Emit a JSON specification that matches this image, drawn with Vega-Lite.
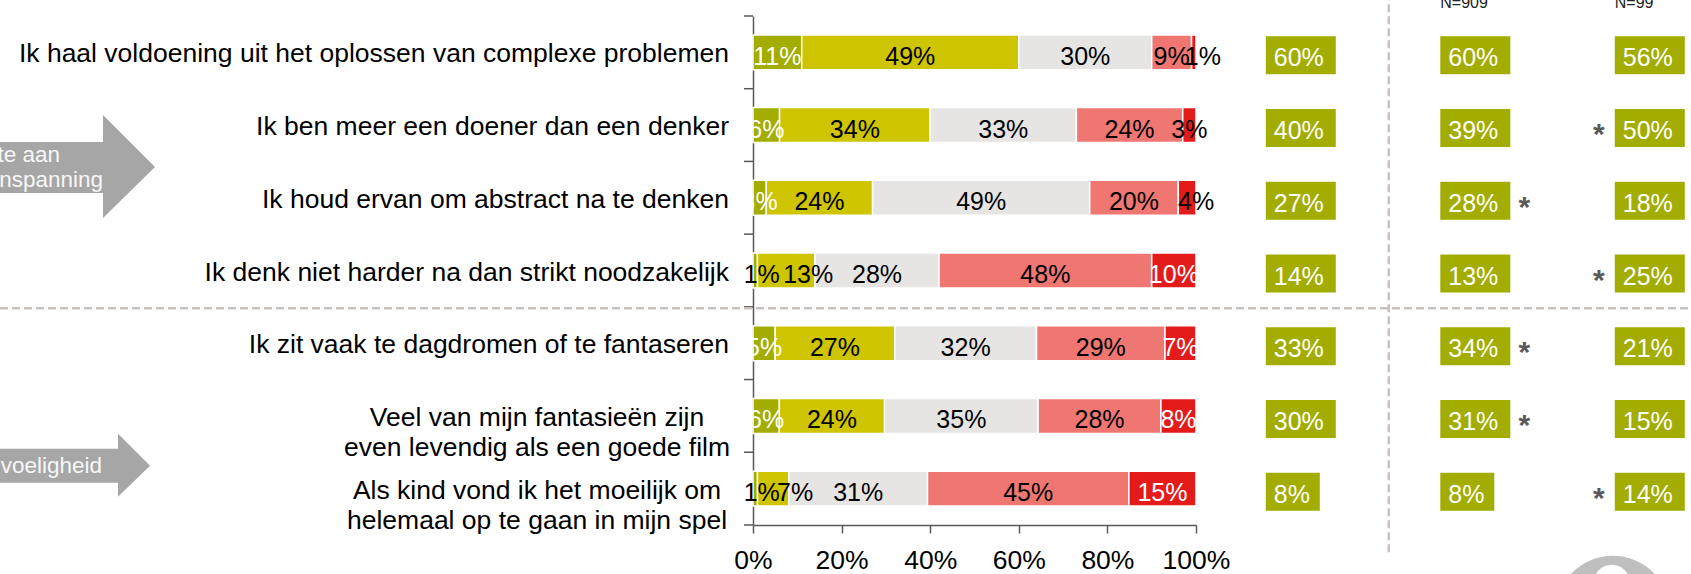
{
  "$schema": "https://vega.github.io/schema/vega-lite/v6.json",
  "width": 443,
  "height": 509,
  "autosize": {"type": "none"},
  "padding": {"left": 753, "top": 16, "right": 495, "bottom": 49},
  "background": "white",
  "config": {"view": {"stroke": null}, "font": "Liberation Sans"},
  "datasets": {
    "likert": [
      {"s": "Ik haal voldoening uit het oplossen van complexe problemen", "c": "Helemaal eens", "k": 1, "v": 11},
      {"s": "Ik haal voldoening uit het oplossen van complexe problemen", "c": "Eens", "k": 2, "v": 49},
      {"s": "Ik haal voldoening uit het oplossen van complexe problemen", "c": "Neutraal", "k": 3, "v": 30},
      {"s": "Ik haal voldoening uit het oplossen van complexe problemen", "c": "Oneens", "k": 4, "v": 9},
      {"s": "Ik haal voldoening uit het oplossen van complexe problemen", "c": "Helemaal oneens", "k": 5, "v": 1},
      {"s": "Ik ben meer een doener dan een denker", "c": "Helemaal eens", "k": 1, "v": 6},
      {"s": "Ik ben meer een doener dan een denker", "c": "Eens", "k": 2, "v": 34},
      {"s": "Ik ben meer een doener dan een denker", "c": "Neutraal", "k": 3, "v": 33},
      {"s": "Ik ben meer een doener dan een denker", "c": "Oneens", "k": 4, "v": 24},
      {"s": "Ik ben meer een doener dan een denker", "c": "Helemaal oneens", "k": 5, "v": 3},
      {"s": "Ik houd ervan om abstract na te denken", "c": "Helemaal eens", "k": 1, "v": 3},
      {"s": "Ik houd ervan om abstract na te denken", "c": "Eens", "k": 2, "v": 24},
      {"s": "Ik houd ervan om abstract na te denken", "c": "Neutraal", "k": 3, "v": 49},
      {"s": "Ik houd ervan om abstract na te denken", "c": "Oneens", "k": 4, "v": 20},
      {"s": "Ik houd ervan om abstract na te denken", "c": "Helemaal oneens", "k": 5, "v": 4},
      {"s": "Ik denk niet harder na dan strikt noodzakelijk", "c": "Helemaal eens", "k": 1, "v": 1},
      {"s": "Ik denk niet harder na dan strikt noodzakelijk", "c": "Eens", "k": 2, "v": 13},
      {"s": "Ik denk niet harder na dan strikt noodzakelijk", "c": "Neutraal", "k": 3, "v": 28},
      {"s": "Ik denk niet harder na dan strikt noodzakelijk", "c": "Oneens", "k": 4, "v": 48},
      {"s": "Ik denk niet harder na dan strikt noodzakelijk", "c": "Helemaal oneens", "k": 5, "v": 10},
      {"s": "Ik zit vaak te dagdromen of te fantaseren", "c": "Helemaal eens", "k": 1, "v": 5},
      {"s": "Ik zit vaak te dagdromen of te fantaseren", "c": "Eens", "k": 2, "v": 27},
      {"s": "Ik zit vaak te dagdromen of te fantaseren", "c": "Neutraal", "k": 3, "v": 32},
      {"s": "Ik zit vaak te dagdromen of te fantaseren", "c": "Oneens", "k": 4, "v": 29},
      {"s": "Ik zit vaak te dagdromen of te fantaseren", "c": "Helemaal oneens", "k": 5, "v": 7},
      {"s": "Veel van mijn fantasieën zijn\neven levendig als een goede film", "c": "Helemaal eens", "k": 1, "v": 6},
      {"s": "Veel van mijn fantasieën zijn\neven levendig als een goede film", "c": "Eens", "k": 2, "v": 24},
      {"s": "Veel van mijn fantasieën zijn\neven levendig als een goede film", "c": "Neutraal", "k": 3, "v": 35},
      {"s": "Veel van mijn fantasieën zijn\neven levendig als een goede film", "c": "Oneens", "k": 4, "v": 28},
      {"s": "Veel van mijn fantasieën zijn\neven levendig als een goede film", "c": "Helemaal oneens", "k": 5, "v": 8},
      {"s": "Als kind vond ik het moeilijk om\nhelemaal op te gaan in mijn spel", "c": "Helemaal eens", "k": 1, "v": 1},
      {"s": "Als kind vond ik het moeilijk om\nhelemaal op te gaan in mijn spel", "c": "Eens", "k": 2, "v": 7},
      {"s": "Als kind vond ik het moeilijk om\nhelemaal op te gaan in mijn spel", "c": "Neutraal", "k": 3, "v": 31},
      {"s": "Als kind vond ik het moeilijk om\nhelemaal op te gaan in mijn spel", "c": "Oneens", "k": 4, "v": 45},
      {"s": "Als kind vond ik het moeilijk om\nhelemaal op te gaan in mijn spel", "c": "Helemaal oneens", "k": 5, "v": 15}
    ],
    "boxes": [
      {"s": "Ik haal voldoening uit het oplossen van complexe problemen", "g": "Totaal", "v": 60},
      {"s": "Ik ben meer een doener dan een denker", "g": "Totaal", "v": 40},
      {"s": "Ik houd ervan om abstract na te denken", "g": "Totaal", "v": 27},
      {"s": "Ik denk niet harder na dan strikt noodzakelijk", "g": "Totaal", "v": 14},
      {"s": "Ik zit vaak te dagdromen of te fantaseren", "g": "Totaal", "v": 33},
      {"s": "Veel van mijn fantasieën zijn\neven levendig als een goede film", "g": "Totaal", "v": 30},
      {"s": "Als kind vond ik het moeilijk om\nhelemaal op te gaan in mijn spel", "g": "Totaal", "v": 8},
      {"s": "Ik haal voldoening uit het oplossen van complexe problemen", "g": "N=909", "v": 60},
      {"s": "Ik ben meer een doener dan een denker", "g": "N=909", "v": 39},
      {"s": "Ik houd ervan om abstract na te denken", "g": "N=909", "v": 28},
      {"s": "Ik denk niet harder na dan strikt noodzakelijk", "g": "N=909", "v": 13},
      {"s": "Ik zit vaak te dagdromen of te fantaseren", "g": "N=909", "v": 34},
      {"s": "Veel van mijn fantasieën zijn\neven levendig als een goede film", "g": "N=909", "v": 31},
      {"s": "Als kind vond ik het moeilijk om\nhelemaal op te gaan in mijn spel", "g": "N=909", "v": 8},
      {"s": "Ik haal voldoening uit het oplossen van complexe problemen", "g": "N=99", "v": 56},
      {"s": "Ik ben meer een doener dan een denker", "g": "N=99", "v": 50},
      {"s": "Ik houd ervan om abstract na te denken", "g": "N=99", "v": 18},
      {"s": "Ik denk niet harder na dan strikt noodzakelijk", "g": "N=99", "v": 25},
      {"s": "Ik zit vaak te dagdromen of te fantaseren", "g": "N=99", "v": 21},
      {"s": "Veel van mijn fantasieën zijn\neven levendig als een goede film", "g": "N=99", "v": 15},
      {"s": "Als kind vond ik het moeilijk om\nhelemaal op te gaan in mijn spel", "g": "N=99", "v": 14}
    ],
    "stars": [
      {"s": "Ik houd ervan om abstract na te denken", "g": "N=909"},
      {"s": "Ik zit vaak te dagdromen of te fantaseren", "g": "N=909"},
      {"s": "Veel van mijn fantasieën zijn\neven levendig als een goede film", "g": "N=909"},
      {"s": "Ik ben meer een doener dan een denker", "g": "N=99"},
      {"s": "Ik denk niet harder na dan strikt noodzakelijk", "g": "N=99"},
      {"s": "Als kind vond ik het moeilijk om\nhelemaal op te gaan in mijn spel", "g": "N=99"}
    ]
  },
  "encoding": {
    "y": {
      "field": "s",
      "type": "nominal",
      "scale": {
        "domain": [
          "Ik haal voldoening uit het oplossen van complexe problemen",
          "Ik ben meer een doener dan een denker",
          "Ik houd ervan om abstract na te denken",
          "Ik denk niet harder na dan strikt noodzakelijk",
          "Ik zit vaak te dagdromen of te fantaseren",
          "Veel van mijn fantasieën zijn\neven levendig als een goede film",
          "Als kind vond ik het moeilijk om\nhelemaal op te gaan in mijn spel"
        ],
        "paddingInner": 0.52,
        "paddingOuter": 0.26
      },
      "axis": {
        "labels": false,
        "title": null,
        "grid": false,
        "ticks": false,
        "domainColor": "#595959",
        "domainWidth": 1.5
      }
    }
  },
  "layer": [
    {
      "layer": [
        {
          "data": {"name": "likert"},
          "mark": {"type": "bar", "stroke": "white", "strokeWidth": 1.5},
          "encoding": {
            "x": {
              "field": "v",
              "type": "quantitative",
              "stack": "normalize",
              "scale": {"domain": [0, 1]},
              "axis": {
                "values": [0, 0.2, 0.4, 0.6, 0.8, 1],
                "format": ".0%",
                "title": null,
                "grid": false,
                "labelFontSize": 26.5,
                "labelColor": "black",
                "labelFlush": false,
                "tickSize": 8,
                "labelPadding": 14,
                "domainColor": "#595959",
                "tickColor": "#595959",
                "domainWidth": 1.5,
                "tickWidth": 1.5
              }
            },
            "color": {
              "field": "c",
              "type": "nominal",
              "scale": {
                "domain": ["Helemaal eens", "Eens", "Neutraal", "Oneens", "Helemaal oneens"],
                "range": ["#a2ad00", "#cec400", "#e7e5e3", "#f07672", "#e31b1b"]
              },
              "legend": null
            },
            "order": {"field": "k", "type": "quantitative"}
          }
        },
        {
          "data": {"name": "likert"},
          "mark": {"type": "text", "fontSize": 25, "baseline": "alphabetic", "dy": 12.5, "text": {"expr": "datum.v + '%'"}},
          "encoding": {
            "x": {"field": "v", "type": "quantitative", "stack": "normalize", "bandPosition": 0.5},
            "detail": {"field": "c", "type": "nominal"},
            "order": {"field": "k", "type": "quantitative"},
            "opacity": {
              "condition": {"test": "(datum.k == 1 && datum.v <= 1) || (datum.k == 2 && datum.v < 15) || (datum.k == 5 && (datum.v == 1 || datum.v == 4))", "value": 0},
              "value": 1
            },
            "color": {
              "condition": {"test": "(datum.k == 1 && datum.v >= 3) || (datum.k == 5 && datum.v >= 7)", "value": "white"},
              "value": "black"
            }
          }
        },
        {
          "data": {"name": "likert"},
          "mark": {"type": "text", "fontSize": 25, "baseline": "alphabetic", "dy": 12.5, "dx": 6.5, "color": "black", "text": {"expr": "datum.v + '%'"}},
          "encoding": {
            "x": {"field": "v", "type": "quantitative", "stack": "normalize", "bandPosition": 0.5},
            "detail": {"field": "c", "type": "nominal"},
            "order": {"field": "k", "type": "quantitative"},
            "opacity": {"condition": {"test": "datum.k == 1 && datum.v <= 1", "value": 1}, "value": 0}
          }
        },
        {
          "data": {"name": "likert"},
          "mark": {"type": "text", "fontSize": 25, "baseline": "alphabetic", "dy": 12.5, "dx": 22, "color": "black", "text": {"expr": "datum.v + '%'"}},
          "encoding": {
            "x": {"field": "v", "type": "quantitative", "stack": "normalize", "bandPosition": 0.5},
            "detail": {"field": "c", "type": "nominal"},
            "order": {"field": "k", "type": "quantitative"},
            "opacity": {"condition": {"test": "datum.k == 2 && datum.v < 15", "value": 1}, "value": 0}
          }
        },
        {
          "data": {"name": "likert"},
          "mark": {"type": "text", "fontSize": 25, "baseline": "alphabetic", "dy": 12.5, "dx": 9, "color": "black", "text": {"expr": "datum.v + '%'"}},
          "encoding": {
            "x": {"field": "v", "type": "quantitative", "stack": "normalize", "bandPosition": 0.5},
            "detail": {"field": "c", "type": "nominal"},
            "order": {"field": "k", "type": "quantitative"},
            "opacity": {"condition": {"test": "datum.k == 5 && (datum.v == 1 || datum.v == 4)", "value": 1}, "value": 0}
          }
        },
        {
          "data": {"name": "likert"},
          "transform": [{"filter": "datum.k == 1"}],
          "mark": {"type": "point", "filled": false, "size": 4, "opacity": 1, "color": "#595959", "strokeWidth": 1.5},
          "encoding": {
            "x": {"datum": 0, "type": "quantitative"},
            "shape": {
              "condition": {"test": "indexof(datum.s, 'Als kind') == 0", "value": "M-9,-36.36H0M-9,36.36H0"},
              "value": "M-9,-36.36H0"
            }
          }
        },
        {
          "data": {"name": "likert"},
          "transform": [{"filter": "datum.k == 1 && indexof(datum.s, '\\n') < 0"}],
          "mark": {"type": "text", "align": "right", "baseline": "middle", "dx": -24, "dy": 2, "fontSize": 26.5, "color": "black"},
          "encoding": {
            "x": {"datum": 0, "type": "quantitative"},
            "text": {"field": "s", "type": "nominal"}
          }
        },
        {
          "data": {"name": "likert"},
          "transform": [{"filter": "datum.k == 1 && indexof(datum.s, '\\n') >= 0"}],
          "mark": {"type": "text", "align": "center", "baseline": "middle", "dx": -216, "dy": 2, "fontSize": 26.5, "lineHeight": 30, "lineBreak": "\n", "color": "black"},
          "encoding": {
            "x": {"datum": 0, "type": "quantitative"},
            "text": {"field": "s", "type": "nominal"}
          }
        },
        {
          "data": {"name": "likert"},
          "transform": [{"filter": "datum.k == 1 && indexof(datum.s, 'Ik zit') == 0"}],
          "mark": {"type": "point", "filled": false, "size": 4, "opacity": 1, "shape": "M-753,-35H938", "color": "#c8c1bd", "strokeWidth": 2.5, "strokeDash": [8, 4]},
          "encoding": {"x": {"datum": 0, "type": "quantitative"}}
        },
        {
          "data": {"name": "likert"},
          "transform": [{"filter": "datum.k == 1 && indexof(datum.s, 'Ik ben') == 0"}],
          "mark": {"type": "point", "filled": true, "size": 4, "opacity": 1, "strokeWidth": 0, "shape": "M-800,17H-650V-10L-598,42L-650,93V68H-800Z", "color": "#a6a6a6"},
          "encoding": {"x": {"datum": 0, "type": "quantitative"}}
        },
        {
          "data": {"name": "likert"},
          "transform": [{"filter": "datum.k == 1 && indexof(datum.s, 'Als kind') == 0"}],
          "mark": {"type": "point", "filled": true, "size": 4, "opacity": 1, "strokeWidth": 0, "shape": "M-800,-40H-635V-55L-603,-23L-635,8V-6H-800Z", "color": "#a6a6a6"},
          "encoding": {"x": {"datum": 0, "type": "quantitative"}}
        },
        {
          "data": {"name": "likert"},
          "transform": [{"filter": "datum.k == 1 && indexof(datum.s, 'Ik ben') == 0"}],
          "mark": {"type": "text", "text": "Behoefte aan", "align": "right", "baseline": "alphabetic", "dx": -693, "dy": 37, "fontSize": 22.5, "color": "#f7f7f7"},
          "encoding": {"x": {"datum": 0, "type": "quantitative"}}
        },
        {
          "data": {"name": "likert"},
          "transform": [{"filter": "datum.k == 1 && indexof(datum.s, 'Ik ben') == 0"}],
          "mark": {"type": "text", "text": "denkinspanning", "align": "right", "baseline": "alphabetic", "dx": -650, "dy": 62, "fontSize": 22.5, "color": "#f7f7f7"},
          "encoding": {"x": {"datum": 0, "type": "quantitative"}}
        },
        {
          "data": {"name": "likert"},
          "transform": [{"filter": "datum.k == 1 && indexof(datum.s, 'Als kind') == 0"}],
          "mark": {"type": "text", "text": "Fantasiegevoeligheid", "align": "right", "baseline": "alphabetic", "dx": -651, "dy": -16, "fontSize": 22.5, "color": "#f7f7f7"},
          "encoding": {"x": {"datum": 0, "type": "quantitative"}}
        }
      ]
    },
    {
      "encoding": {
        "x": {
          "field": "g",
          "type": "nominal",
          "scale": {"type": "point", "domain": ["Totaal", "N=909", "N=99"], "range": [512.8, 861.8], "padding": 0},
          "axis": null
        }
      },
      "layer": [
        {
          "data": {"name": "boxes"},
          "transform": [{"filter": "datum.g == 'Totaal' && indexof(datum.s, 'Ik haal') == 0"}],
          "mark": {"type": "point", "filled": false, "size": 4, "opacity": 1, "shape": "M123,-60V503", "color": "#c8c1bd", "strokeWidth": 2.5, "strokeDash": [8, 4]}
        },
        {
          "data": {"name": "boxes"},
          "transform": [{"filter": "datum.g == 'N=99' && indexof(datum.s, 'Als kind') == 0"}],
          "mark": {"type": "point", "filled": true, "size": 4, "opacity": 1, "strokeWidth": 0, "shape": "M-59,124A57,57 0 1 1 55,124A57,57 0 1 1 -59,124Z", "color": "#bfbfbf"}
        },
        {
          "data": {"name": "boxes"},
          "transform": [{"filter": "datum.g == 'N=99' && indexof(datum.s, 'Als kind') == 0"}],
          "mark": {"type": "point", "filled": true, "size": 4, "opacity": 1, "strokeWidth": 0, "shape": "M-21,94A18,18 0 1 1 15,94A18,18 0 1 1 -21,94Z", "color": "#ffffff"}
        },
        {
          "data": {"name": "boxes"},
          "mark": {"type": "point", "filled": true, "size": 4, "opacity": 1, "strokeWidth": 0, "color": "#a2ad00"},
          "encoding": {
            "shape": {
              "condition": {"test": "datum.v < 10", "value": "M0,-16H54V22H0Z"},
              "value": "M0,-16H70V22H0Z"
            }
          }
        },
        {
          "data": {"name": "boxes"},
          "mark": {"type": "text", "align": "left", "baseline": "alphabetic", "dx": 8, "dy": 14, "fontSize": 25, "color": "white", "text": {"expr": "datum.v + '%'"}}
        },
        {
          "data": {"name": "stars"},
          "transform": [{"filter": "datum.g == 'N=909'"}],
          "mark": {"type": "text", "text": "*", "align": "center", "baseline": "alphabetic", "dx": 84, "dy": 19, "fontSize": 30, "fontWeight": "bold", "color": "#595959"}
        },
        {
          "data": {"name": "stars"},
          "transform": [{"filter": "datum.g == 'N=99'"}],
          "mark": {"type": "text", "text": "*", "align": "center", "baseline": "alphabetic", "dx": -16, "dy": 19, "fontSize": 30, "fontWeight": "bold", "color": "#595959"}
        },
        {
          "data": {"name": "boxes"},
          "transform": [{"filter": "datum.g != 'Totaal' && indexof(datum.s, 'Ik haal') == 0"}],
          "mark": {"type": "text", "align": "left", "baseline": "alphabetic", "dx": 0, "dy": -44, "fontSize": 16, "color": "#222222"},
          "encoding": {"text": {"field": "g", "type": "nominal"}}
        }
      ]
    }
  ],
  "resolve": {"scale": {"x": "independent"}}
}
